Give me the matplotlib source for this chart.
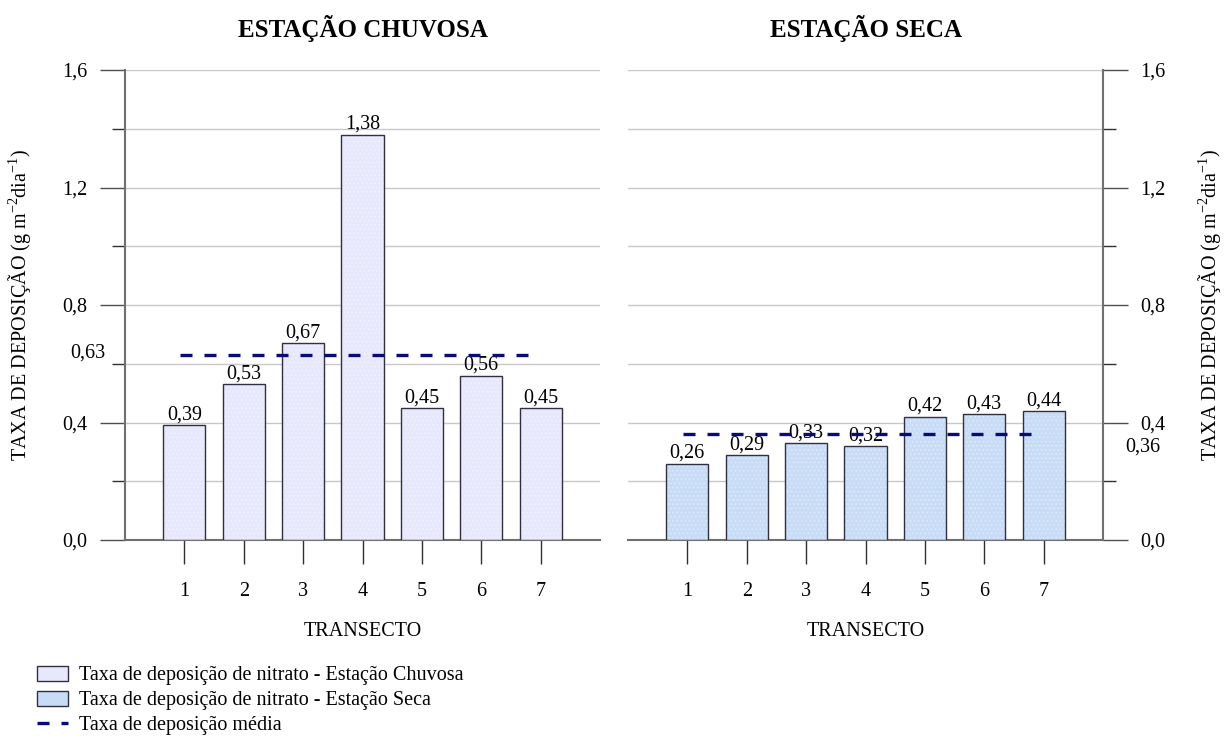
import matplotlib
matplotlib.use("Agg")
import matplotlib.pyplot as plt
from matplotlib.patches import Patch
from matplotlib.lines import Line2D
import numpy as np

plt.rcParams['font.family'] = ['Liberation Serif', 'DejaVu Serif']
plt.rcParams['mathtext.fontset'] = 'custom'
plt.rcParams['mathtext.rm'] = 'Liberation Serif'
plt.rcParams['hatch.linewidth'] = 0.4

transectos = [1, 2, 3, 4, 5, 6, 7]
chuvosa = [0.39, 0.53, 0.67, 1.38, 0.45, 0.56, 0.45]
seca = [0.26, 0.29, 0.33, 0.32, 0.42, 0.43, 0.44]
media_chuvosa = 0.63
media_seca = 0.36
titulos = ["ESTAÇÃO CHUVOSA", "ESTAÇÃO SECA"]
ylabel = r"TAXA DE DEPOSIÇÃO (g m$^{\mathregular{-2}}$dia$^{\mathregular{-1}}$)"
legendas = ["Taxa de deposição de nitrato - Estação Chuvosa",
            "Taxa de deposição de nitrato - Estação Seca",
            "Taxa de deposição média"]

def fmt(v, nd):
    return f"{v:.{nd}f}".replace(".", ",")

FS = 14.5
W, H = 1227, 745
fig = plt.figure(figsize=(W / 100, H / 100), dpi=100)
ax1 = fig.add_axes([125 / W, (H - 540) / H, 475 / W, 470 / H])
ax2 = fig.add_axes([628 / W, (H - 540) / H, 475 / W, 470 / H])

cores = ["#e8e8fc", "#c9dcf6"]
hatch_cores = ["#f4f4ff", "#e4eefc"]
medias = [media_chuvosa, media_seca]
dados = [chuvosa, seca]
spine_c = "#707070"
linha_c = "#0b0b78"
dash = (0, (3.6, 3.6))

for i, ax in enumerate([ax1, ax2]):
    x = np.array(transectos)
    bars = ax.bar(x, dados[i], width=0.71, color=cores[i], edgecolor="#303040",
                  linewidth=1.0, zorder=3, hatch="....")
    for b in bars:
        b._hatch_color = matplotlib.colors.to_rgba(hatch_cores[i])
    for xi, v in zip(x, dados[i]):
        ax.text(xi, v + 0.002, fmt(v, 2), ha="center", va="bottom",
                fontsize=FS, zorder=4)
    ax.plot([0.93, 6.92], [medias[i], medias[i]], color=linha_c,
            linestyle=dash, linewidth=2.4, zorder=5)
    ax.set_xlim(0, 8)
    ax.set_ylim(0, 1.6)
    ax.set_yticks([0, 0.4, 0.8, 1.2, 1.6])
    ax.set_yticks(np.arange(0.2, 1.6, 0.4), minor=True)
    ax.set_yticklabels([fmt(v, 1) for v in [0, 0.4, 0.8, 1.2, 1.6]], fontsize=FS)
    ax.set_xticks(x)
    ax.set_xticklabels([str(t) for t in transectos], fontsize=FS)
    for yv in np.arange(0.2, 1.61, 0.2):
        ax.axhline(yv, color="#c8c8c8", linewidth=1.0, zorder=1)
    ax.tick_params(axis="x", length=17, width=1.0, color="#303030", pad=13)
    ax.tick_params(axis="y", which="major", length=18, width=1.0, color="#505050", pad=9)
    ax.tick_params(axis="y", which="minor", length=9.5, width=1.0, color="#303030")
    ax.spines["top"].set_visible(False)
    ax.spines["bottom"].set_color(spine_c)
    ax.spines["bottom"].set_linewidth(1.5)
    ax.set_title(titulos[i], fontsize=18, fontweight="bold", pad=24)
    ax.set_xlabel("TRANSECTO", fontsize=FS, labelpad=15)

ax1.spines["right"].set_visible(False)
ax1.spines["left"].set_color(spine_c)
ax1.spines["left"].set_linewidth(1.5)
ax1.set_ylabel(ylabel, fontsize=FS, labelpad=21)
ax1.text(-0.33, 0.637, fmt(media_chuvosa, 2), ha="right", va="center",
         fontsize=FS, clip_on=False)

ax2.spines["left"].set_visible(False)
ax2.spines["right"].set_color(spine_c)
ax2.spines["right"].set_linewidth(1.5)
ax2.yaxis.tick_right()
ax2.yaxis.set_label_position("right")
ax2.set_ylabel(ylabel, fontsize=FS, labelpad=21.5, rotation=90)
ax2.text(8.37, 0.317, fmt(media_seca, 2), ha="left", va="center",
         fontsize=FS, clip_on=False)

handles = [
    Patch(facecolor=cores[0], edgecolor="#303040", linewidth=1.0),
    Patch(facecolor=cores[1], edgecolor="#303040", linewidth=1.0),
    Line2D([0], [0], color=linha_c, linestyle=dash, linewidth=2.4),
]
fig.legend(handles, legendas, loc="upper left", bbox_to_anchor=(37 / W, 1 - 666 / H),
           frameon=False, fontsize=FS, handlelength=1.55, handleheight=0.75,
           labelspacing=0.28, handletextpad=0.55, borderpad=0, borderaxespad=0)

fig.savefig("out.png", dpi=100)
